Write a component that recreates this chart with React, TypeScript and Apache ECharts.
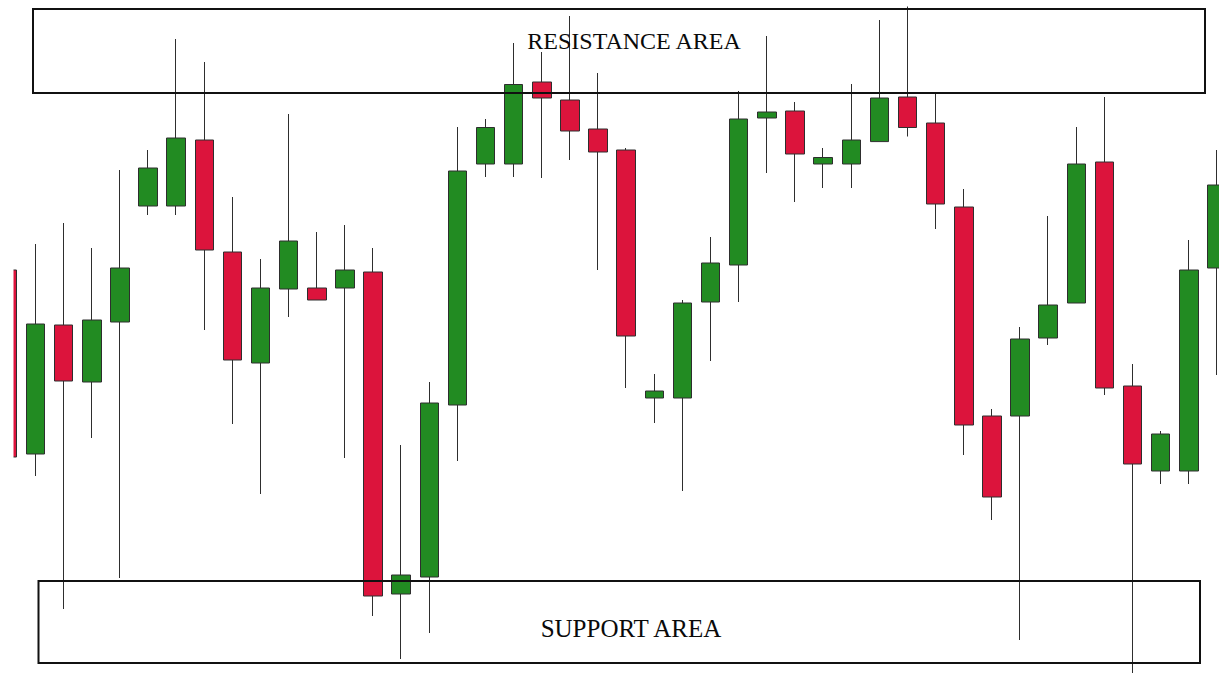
import React, { useEffect, useRef } from "react";
import * as echarts from "echarts";

// Candle values: [open, close, low, high] (price units, 0..673)
const categories: string[] = Array.from({ length: 44 }, (_, i) => `D${i + 1}`);

const opens = [403, 219, 348, 291, 351, 467, 467, 533, 421, 310, 384, 385, 385, 401, 79, 96, 268, 509, 509, 591, 573, 544, 523, 275, 275, 371, 408, 555, 562, 509, 509, 531.4, 576, 550, 466, 257, 257, 335, 370, 511, 287, 202, 202, 405];
const closes = [216, 349, 292, 353, 405, 505, 535, 423, 313, 385, 432, 373, 403, 77, 98, 270, 502, 545.5, 588.5, 575, 542, 521, 337, 282, 370, 410, 554, 561, 519, 515.5, 533, 575, 545.5, 469, 248, 176, 334, 368, 509, 285, 209, 239, 403, 488];
const lows = [216, 197, 64, 235, 95, 458, 458, 343, 249, 179, 356, 373, 215, 57, 14, 40, 212, 496, 496, 495, 513, 403, 285, 250, 182, 312, 371, 500, 471, 485, 485, 531.4, 536.5, 444, 218, 153, 33, 328, 370, 278, 0, 189, 189, 298];
const highs = [403, 429, 450, 425, 503, 523, 634, 611, 476, 414, 559, 441, 448, 425, 228, 291, 546, 554, 630, 621, 657, 600, 525, 299, 373, 436, 582, 637, 571, 525, 589, 653, 666.5, 580, 484, 264, 346, 457, 546, 576, 309, 242, 433, 523];

const resistanceLabel = "RESISTANCE AREA";
const supportLabel = "SUPPORT AREA";

export default function App() {
  const ref = useRef<HTMLDivElement | null>(null);

  useEffect(() => {
    if (!ref.current) return;
    const chart = echarts.init(ref.current, undefined, { renderer: "svg" });
    const data = opens.map((o, i) => [o, closes[i], lows[i], highs[i]]);
    const font = '"Liberation Serif", "DejaVu Serif", serif';
    chart.setOption({
      animation: false,
      backgroundColor: "#ffffff",
      grid: {
        left: -6.7,
        width: 1237.7,
        top: 0,
        height: 673,
        containLabel: false,
        outerBoundsMode: "none",
      },
      xAxis: {
        type: "category",
        data: categories,
        show: false,
        boundaryGap: true,
      },
      yAxis: {
        type: "value",
        min: 0,
        max: 673,
        show: false,
        splitLine: { show: false },
      },
      series: [
        {
          type: "candlestick",
          data,
          barWidth: 19,
          itemStyle: {
            color: "#228b22",
            color0: "#dc143c",
            borderColor: "#2e2e2e",
            borderColor0: "#2e2e2e",
            borderWidth: 1,
          },
        },
      ],
      graphic: [
        {
          type: "rect",
          z: 100,
          shape: { x: 0, y: 0, width: 13.5, height: 673 },
          style: { fill: "#ffffff" },
        },
        {
          type: "rect",
          z: 101,
          shape: { x: 33, y: 9, width: 1172, height: 84 },
          style: { fill: "none", stroke: "#111111", lineWidth: 2 },
        },
        {
          type: "rect",
          z: 101,
          shape: { x: 38.5, y: 581, width: 1161.5, height: 82 },
          style: { fill: "none", stroke: "#111111", lineWidth: 2 },
        },
        {
          type: "text",
          z: 102,
          x: 634,
          y: 41,
          style: {
            text: resistanceLabel,
            font: `24px ${font}`,
            fill: "#0a0a0a",
            textAlign: "center",
            textVerticalAlign: "middle",
          },
        },
        {
          type: "text",
          z: 102,
          x: 631,
          y: 628,
          style: {
            text: supportLabel,
            font: `25px ${font}`,
            fill: "#0a0a0a",
            textAlign: "center",
            textVerticalAlign: "middle",
          },
        },
      ],
    });
    return () => {
      chart.dispose();
    };
  }, []);

  return (
    <div
      ref={ref}
      style={{ position: "absolute", left: 0, top: 0, width: 1219, height: 673 }}
    />
  );
}
